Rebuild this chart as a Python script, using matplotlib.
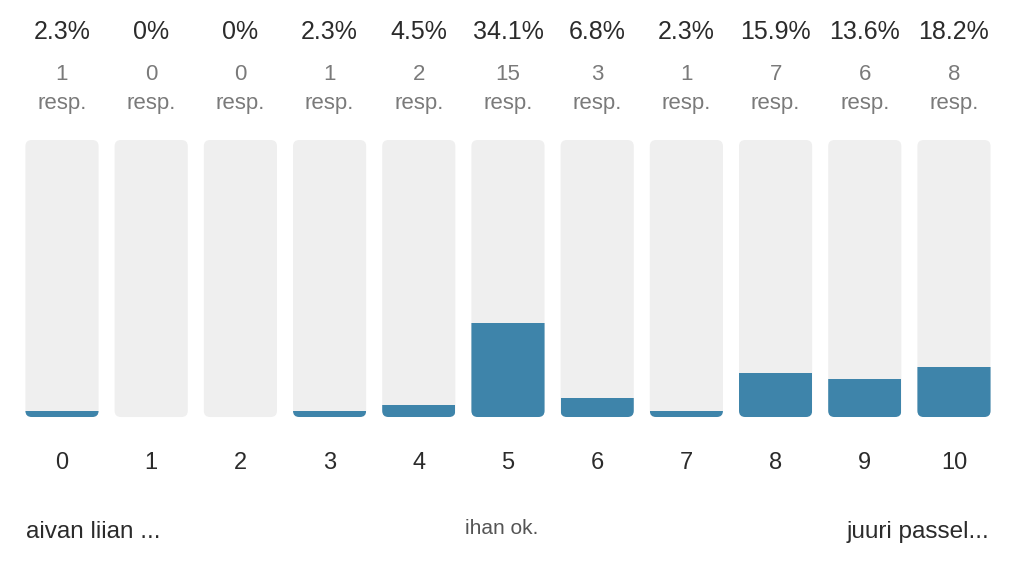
import matplotlib.pyplot as plt
from matplotlib.patches import FancyBboxPatch, Rectangle
import matplotlib.transforms as mtransforms

# scale values 0..10
categories = ['0', '1', '2', '3', '4', '5', '6', '7', '8', '9', '10']
percents = [2.3, 0, 0, 2.3, 4.5, 34.1, 6.8, 2.3, 15.9, 13.6, 18.2]
counts = [1, 0, 0, 1, 2, 15, 3, 1, 7, 6, 8]
pct_labels = ['2.3%', '0%', '0%', '2.3%', '4.5%', '34.1%', '6.8%', '2.3%', '15.9%', '13.6%', '18.2%']
end_labels = ['aivan liian ...', 'ihan ok.', 'juuri passel...']

plt.rcParams['font.family'] = ['Liberation Sans', 'DejaVu Sans']

BLUE = '#3e84aa'
TRACK = '#efefef'
DARK = '#2b2b2b'
GREY = '#7a7a7a'

fig = plt.figure(figsize=(10.24, 5.69), dpi=100)
ax = fig.add_axes([0, 0, 1, 1])
ax.set_xlim(-0.695, 10.785)
ax.set_ylim(-54.87, 150.54)
ax.axis('off')

width = 0.82
r = 0.07              # corner radius in x units
aspect = 32.0         # y units per x unit, keeps corners round in pixels

for i, p in enumerate(percents):
    x0 = i - width / 2
    track = FancyBboxPatch((x0, 0), width, 100,
                           boxstyle=f'round,pad=0,rounding_size={r}',
                           mutation_aspect=aspect, fc=TRACK, ec='none')
    ax.add_patch(track)
    if p > 0:
        # plain bar clipped by the track so only the bottom corners are round
        bar = Rectangle((x0, 0), width, p, fc=BLUE, ec='none')
        ax.add_patch(bar)
        bar.set_clip_path(track)

trans = mtransforms.blended_transform_factory(ax.transData, ax.transAxes)


def ypix(py):
    return 1 - py / 569


for i, cat in enumerate(categories):
    ax.text(i, ypix(39), pct_labels[i], transform=trans, ha='center', va='baseline',
            fontsize=18, color=DARK)
    ax.text(i, ypix(80), str(counts[i]), transform=trans, ha='center', va='baseline',
            fontsize=16, color=GREY)
    ax.text(i, ypix(109), 'resp.', transform=trans, ha='center', va='baseline',
            fontsize=16, color=GREY)
    ax.text(i, ypix(469), cat, transform=trans, ha='center', va='baseline',
            fontsize=17, color=DARK)

ax.text(26 / 1024, ypix(538), end_labels[0], transform=ax.transAxes,
        ha='left', va='baseline', fontsize=17.5, color=DARK)
ax.text(502 / 1024, ypix(534), end_labels[1], transform=ax.transAxes,
        ha='center', va='baseline', fontsize=15, color='#555555')
ax.text(989 / 1024, ypix(538), end_labels[2], transform=ax.transAxes,
        ha='right', va='baseline', fontsize=17.5, color=DARK)

plt.savefig('out.png', dpi=100)
